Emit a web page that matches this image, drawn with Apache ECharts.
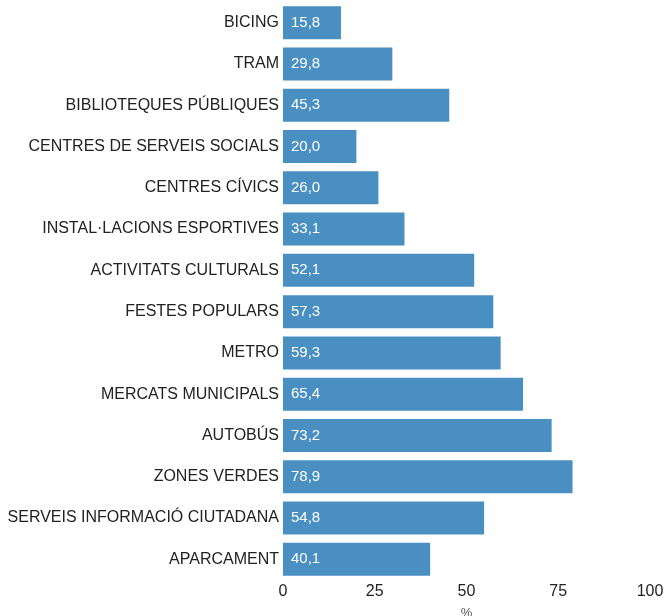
<!DOCTYPE html>
<html>
<head>
<meta charset="utf-8">
<style>
  html, body { margin: 0; padding: 0; background: #fff; }
  #chart { width: 664px; height: 616px; }
</style>
<script src="https://cdn.jsdelivr.net/npm/echarts@6/dist/echarts.min.js"></script>
</head>
<body>
<div id="chart"></div>
<script>
// top to bottom as in the picture
const categories = [
  "BICING",
  "TRAM",
  "BIBLIOTEQUES PÚBLIQUES",
  "CENTRES DE SERVEIS SOCIALS",
  "CENTRES CÍVICS",
  "INSTAL·LACIONS ESPORTIVES",
  "ACTIVITATS CULTURALS",
  "FESTES POPULARS",
  "METRO",
  "MERCATS MUNICIPALS",
  "AUTOBÚS",
  "ZONES VERDES",
  "SERVEIS INFORMACIÓ CIUTADANA",
  "APARCAMENT"
];
const values = [15.8, 29.8, 45.3, 20.0, 26.0, 33.1, 52.1, 57.3, 59.3, 65.4, 73.2, 78.9, 54.8, 40.1];
const xTicks = [0, 25, 50, 75, 100];

const font = "Liberation Sans, Arial, sans-serif";
const chart = echarts.init(document.getElementById("chart"));

chart.setOption({
  animation: false,
  grid: { left: 283, right: 14, top: 2, bottom: 36, containLabel: false, outerBoundsMode: "none" },
  xAxis: {
    type: "value",
    min: xTicks[0],
    max: xTicks[xTicks.length - 1],
    interval: 25,
    name: "%",
    nameLocation: "middle",
    nameGap: 27,
    nameTextStyle: { color: "#555", fontSize: 13, fontFamily: font },
    axisLine: { show: false },
    axisTick: { show: false },
    splitLine: { show: false },
    axisLabel: { color: "#222", fontSize: 16, fontFamily: font, margin: 4 }
  },
  yAxis: {
    type: "category",
    data: categories,
    inverse: true,
    axisLine: { show: false },
    axisTick: { show: false },
    axisLabel: { color: "#222", fontSize: 16, fontFamily: font, margin: 4 }
  },
  series: [{
    type: "bar",
    data: values,
    barCategoryGap: "20%",
    itemStyle: { color: "#4a8fc2" },
    label: {
      show: true,
      position: "insideLeft",
      distance: 8,
      color: "#fff",
      fontSize: 15,
      fontFamily: font,
      formatter: p => p.value.toFixed(1).replace(".", ",")
    }
  }]
});
</script>
</body>
</html>
